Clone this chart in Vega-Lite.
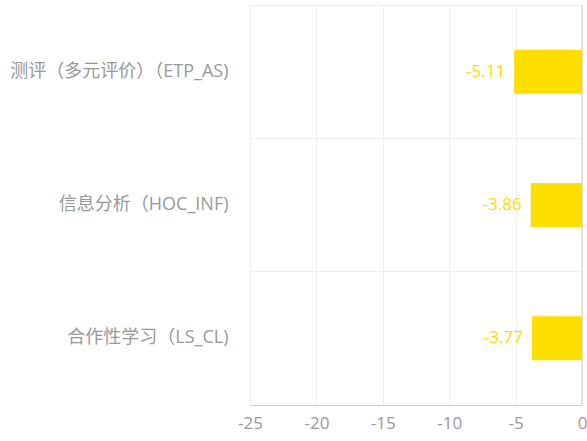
{
  "$schema": "https://vega.github.io/schema/vega-lite/v6.json",
  "autosize": "none",
  "width": 332,
  "height": 400,
  "padding": {"left": 250, "top": 5, "right": 5, "bottom": 36},
  "background": "white",
  "config": {
    "view": {"stroke": null},
    "font": "Open Sans, Noto Sans CJK SC"
  },
  "layer": [
    {
      "data": {
        "values": [
          {"category": "测评（多元评价）（ETP_AS)", "value": -5.11},
          {"category": "信息分析（HOC_INF)", "value": -3.86},
          {"category": "合作性学习（LS_CL)", "value": -3.77}
        ]
      },
      "encoding": {
        "y": {
          "field": "category",
          "type": "nominal",
          "sort": null,
          "scale": {"paddingInner": 0, "paddingOuter": 0},
          "axis": {
            "title": null,
            "domain": false,
            "ticks": false,
            "grid": true,
            "gridColor": "#eeeeee",
            "bandPosition": 0,
            "labelColor": "#999999",
            "labelFontSize": 18,
            "labelPadding": 22,
            "labelLimit": 400,
            "labelFont": "Open Sans, Noto Sans CJK SC"
          }
        },
        "x": {
          "field": "value",
          "type": "quantitative",
          "scale": {"domain": [-25, 0], "nice": false},
          "axis": {
            "title": null,
            "values": [-25, -20, -15, -10, -5, 0],
            "grid": true,
            "gridColor": "#eeeeee",
            "domainColor": "#cccccc",
            "ticks": false,
            "labelFlush": false,
            "labelColor": "#999999",
            "labelFontSize": 17,
            "labelPadding": 10,
            "labelFont": "Open Sans, Noto Sans CJK SC",
            "labelExpr": "replace(datum.label, '\u2212', '-')"
          }
        }
      },
      "layer": [
        {
          "mark": {"type": "bar", "color": "#FFDF00", "height": {"band": 0.33}}
        },
        {
          "mark": {
            "type": "text",
            "align": "right",
            "baseline": "middle",
            "dx": -9,
            "fontSize": 17,
            "color": "#FFDA00",
            "font": "Open Sans, Noto Sans CJK SC",
            "text": {"expr": "replace(format(datum.value, '.2f'), '\u2212', '-')"}
          }
        }
      ]
    },
    {
      "data": {"values": [{"zero": 0}]},
      "mark": {"type": "rule", "color": "#cccccc"},
      "encoding": {"x": {"field": "zero", "type": "quantitative"}}
    }
  ]
}
